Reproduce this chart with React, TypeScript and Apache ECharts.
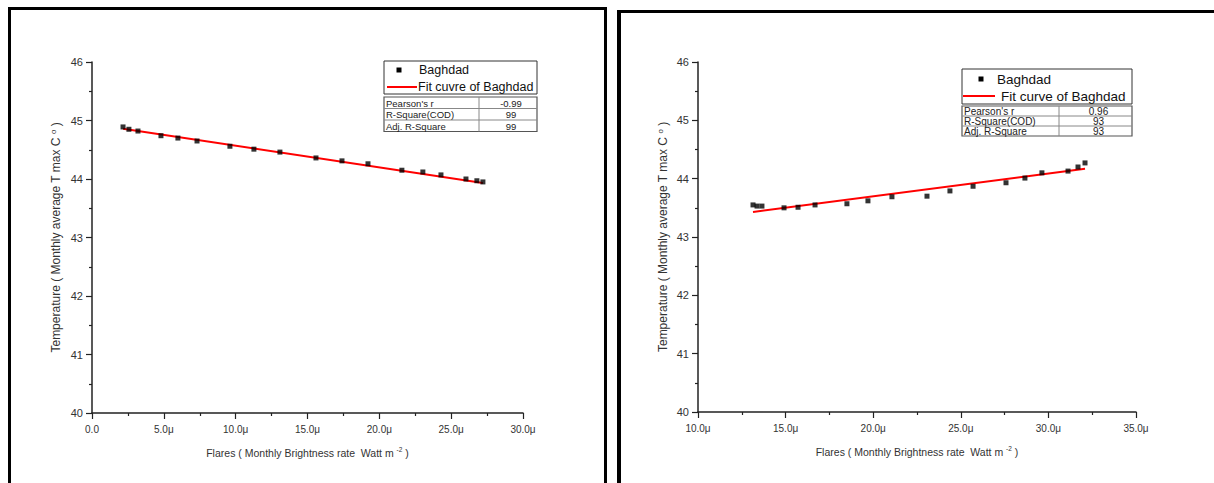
import React, { useEffect, useRef } from "react";
import * as echarts from "echarts";

// ---- data ----
const leftX = [2.16, 2.57, 3.2, 4.8, 5.98, 7.31, 9.6, 11.27, 13.08, 15.59, 17.4, 19.21, 21.57, 23.03, 24.29, 26.03, 26.79, 27.21];
const leftY = [44.89, 44.85, 44.82, 44.74, 44.7, 44.65, 44.56, 44.51, 44.46, 44.36, 44.31, 44.26, 44.15, 44.12, 44.07, 44.0, 43.97, 43.95];
const leftFitX = [2.16, 27.21];
const leftFitY = [44.86, 43.93];

const rightX = [13.14, 13.37, 13.65, 14.91, 15.71, 16.68, 18.5, 19.7, 21.07, 23.07, 24.38, 25.7, 27.58, 28.66, 29.63, 31.12, 31.69, 32.09];
const rightY = [43.55, 43.53, 43.53, 43.5, 43.51, 43.55, 43.57, 43.62, 43.69, 43.7, 43.79, 43.87, 43.93, 44.01, 44.1, 44.13, 44.2, 44.27];
const rightFitX = [13.14, 32.09];
const rightFitY = [43.43, 44.17];

const leftXTicks = ["0.0", "5.0\u03bc", "10.0\u03bc", "15.0\u03bc", "20.0\u03bc", "25.0\u03bc", "30.0\u03bc"];
const rightXTicks = ["10.0\u03bc", "15.0\u03bc", "20.0\u03bc", "25.0\u03bc", "30.0\u03bc", "35.0\u03bc"];
const yTicks = ["40", "41", "42", "43", "44", "45", "46"];

const leftStatsLabels = ["Pearson's r", "R-Square(COD)", "Adj. R-Square"];
const leftStatsValues = ["-0.99", "99", "99"];
const rightStatsLabels = ["Pearson's r", "R-Square(COD)", "Adj. R-Square"];
const rightStatsValues = ["0.96", "93", "93"];

const FONT = "'Liberation Sans', Arial, sans-serif";
const AX = "#222";
const TXT = "#333";

function zip(xs: number[], ys: number[]) {
  return xs.map((x, i) => [x, ys[i]]);
}

function xAxis(gridIndex: number, min: number, max: number, ticks: string[]) {
  return {
    type: "value",
    gridIndex,
    min,
    max,
    interval: 5,
    name: "Flares ( Monthly Brightness rate  Watt m {sup|-2} )",
    nameLocation: "middle",
    nameGap: 33,
    nameTextStyle: {
      fontFamily: FONT,
      fontSize: 10.5,
      color: TXT,
      rich: { sup: { fontFamily: FONT, fontSize: 6.5, color: TXT, verticalAlign: "top", padding: [0, 0, 6, 0] } },
    },
    axisLine: { show: true, onZero: false, lineStyle: { color: AX, width: 1.5 } },
    axisTick: { show: true, inside: false, length: 6, lineStyle: { color: AX, width: 1.2 } },
    minorTick: { show: true, splitNumber: 2, length: 3, lineStyle: { color: AX, width: 1.2 } },
    splitLine: { show: false },
    axisLabel: {
      fontFamily: FONT,
      fontSize: 10,
      color: TXT,
      margin: 11,
      formatter: (v: number) => ticks[Math.round((v - min) / 5)] ?? "",
    },
  };
}

function yAxis(gridIndex: number, nameGap: number) {
  return {
    type: "value",
    gridIndex,
    min: 40,
    max: 46,
    interval: 1,
    name: "Temperature ( Monthly average T max C {sup|o} )",
    nameLocation: "middle",
    nameGap,
    nameTextStyle: {
      fontFamily: FONT,
      fontSize: 12,
      color: TXT,
      rich: { sup: { fontFamily: FONT, fontSize: 8, color: TXT, verticalAlign: "top", padding: [0, 0, 6, 0] } },
    },
    axisLine: { show: true, onZero: false, lineStyle: { color: AX, width: 1.5 } },
    axisTick: { show: true, inside: false, length: 6, lineStyle: { color: AX, width: 1.2 } },
    minorTick: { show: true, splitNumber: 2, length: 3, lineStyle: { color: AX, width: 1.2 } },
    splitLine: { show: false },
    axisLabel: {
      fontFamily: FONT,
      fontSize: 11,
      color: TXT,
      margin: 9,
      formatter: (v: number) => yTicks[Math.round(v - 40)] ?? "",
    },
  };
}

function legendGraphic(
  bx: number, by: number, bw: number, bh: number,
  markerX: number, row1Y: number, row2Y: number,
  lineX1: number, lineX2: number, text1X: number, text2X: number, fontSize: number,
  fitName: string
) {
  return [
    { type: "rect", shape: { x: bx, y: by, width: bw, height: bh }, style: { fill: "#fff", stroke: "#333", lineWidth: 1 } },
    { type: "rect", shape: { x: markerX - 2.5, y: row1Y - 2.5, width: 5, height: 5 }, style: { fill: "#000" } },
    { type: "text", x: text1X, y: row1Y, style: { text: "Baghdad", font: `${fontSize}px ${FONT}`, fill: "#111", verticalAlign: "middle", align: "left" } },
    { type: "line", shape: { x1: lineX1, y1: row2Y, x2: lineX2, y2: row2Y }, style: { stroke: "#ff0000", lineWidth: 2 } },
    { type: "text", x: text2X, y: row2Y, style: { text: fitName, font: `${fontSize}px ${FONT}`, fill: "#111", verticalAlign: "middle", align: "left" } },
  ];
}

function tableGraphic(
  tx: number, ty: number, tw: number, rowH: number, colX: number,
  labels: string[], values: string[], fontSize: number
) {
  const els: any[] = [];
  const th = rowH * labels.length;
  els.push({ type: "rect", shape: { x: tx, y: ty, width: tw, height: th }, style: { fill: "#fff", stroke: "#555", lineWidth: 1.2 } });
  for (let i = 1; i < labels.length; i++) {
    els.push({ type: "line", shape: { x1: tx, y1: ty + rowH * i, x2: tx + tw, y2: ty + rowH * i }, style: { stroke: "#888", lineWidth: 1 } });
  }
  els.push({ type: "line", shape: { x1: colX, y1: ty, x2: colX, y2: ty + th }, style: { stroke: "#888", lineWidth: 1 } });
  labels.forEach((l, i) => {
    els.push({ type: "text", x: tx + 2, y: ty + rowH * i + rowH / 2 + 0.5, style: { text: l, font: `${fontSize}px ${FONT}`, fill: "#222", verticalAlign: "middle", align: "left" } });
    els.push({ type: "text", x: (colX + tx + tw) / 2 + 3, y: ty + rowH * i + rowH / 2 + 0.5, style: { text: values[i], font: `${fontSize}px ${FONT}`, fill: "#222", verticalAlign: "middle", align: "center" } });
  });
  return els;
}

export default function App() {
  const ref = useRef<HTMLDivElement>(null);

  useEffect(() => {
    document.body.style.margin = "0";
    if (!ref.current) return;
    const chart = echarts.init(ref.current, undefined, { renderer: "svg" });

    const frames = [
      // left frame
      { type: "rect", shape: { x: 8, y: 7, width: 3, height: 480 }, style: { fill: "#000" } },
      { type: "rect", shape: { x: 8, y: 7, width: 599, height: 3 }, style: { fill: "#000" } },
      { type: "rect", shape: { x: 604, y: 7, width: 3, height: 480 }, style: { fill: "#000" } },
      // right frame
      { type: "rect", shape: { x: 617, y: 10, width: 4, height: 480 }, style: { fill: "#000" } },
      { type: "rect", shape: { x: 617, y: 10, width: 600, height: 3 }, style: { fill: "#000" } },
    ];

    const option: any = {
      animation: false,
      backgroundColor: "#fff",
      grid: [
        { left: 92, top: 62, width: 431, height: 351, containLabel: false },
        { left: 698, top: 62, width: 438, height: 350, containLabel: false },
      ],
      xAxis: [xAxis(0, 0, 30, leftXTicks), xAxis(1, 10, 35, rightXTicks)],
      yAxis: [yAxis(0, 29), yAxis(1, 28)],
      series: [
        {
          name: "Fit cuvre of Baghdad",
          type: "line",
          xAxisIndex: 0,
          yAxisIndex: 0,
          data: zip(leftFitX, leftFitY),
          symbol: "none",
          lineStyle: { color: "#ff0000", width: 2 },
          z: 2,
        },
        {
          name: "Baghdad",
          type: "scatter",
          xAxisIndex: 0,
          yAxisIndex: 0,
          data: zip(leftX, leftY),
          symbol: "rect",
          symbolSize: 5,
          itemStyle: { color: "#000" },
          z: 3,
        },
        {
          name: "Fit curve of Baghdad",
          type: "line",
          xAxisIndex: 1,
          yAxisIndex: 1,
          data: zip(rightFitX, rightFitY),
          symbol: "none",
          lineStyle: { color: "#ff0000", width: 2 },
          z: 2,
        },
        {
          name: "Baghdad",
          type: "scatter",
          xAxisIndex: 1,
          yAxisIndex: 1,
          data: zip(rightX, rightY),
          symbol: "rect",
          symbolSize: 5,
          itemStyle: { color: "#000" },
          z: 3,
        },
      ],
      graphic: [
        ...frames,
        ...legendGraphic(384, 61, 153, 33, 399, 70, 87, 387, 417, 419, 418, 12.5, "Fit cuvre of Baghdad"),
        ...tableGraphic(384, 97, 153, 11.5, 479, leftStatsLabels, leftStatsValues, 9.5),
        ...legendGraphic(962, 69, 170, 35, 981, 79, 96, 963, 995, 997, 1001, 13.5, "Fit curve of Baghdad"),
        ...tableGraphic(962, 106, 170, 10, 1059, rightStatsLabels, rightStatsValues, 10),
      ],
    };

    chart.setOption(option);
    return () => chart.dispose();
  }, []);

  return <div ref={ref} style={{ position: "absolute", left: 0, top: 0, width: 1214, height: 483 }} />;
}
